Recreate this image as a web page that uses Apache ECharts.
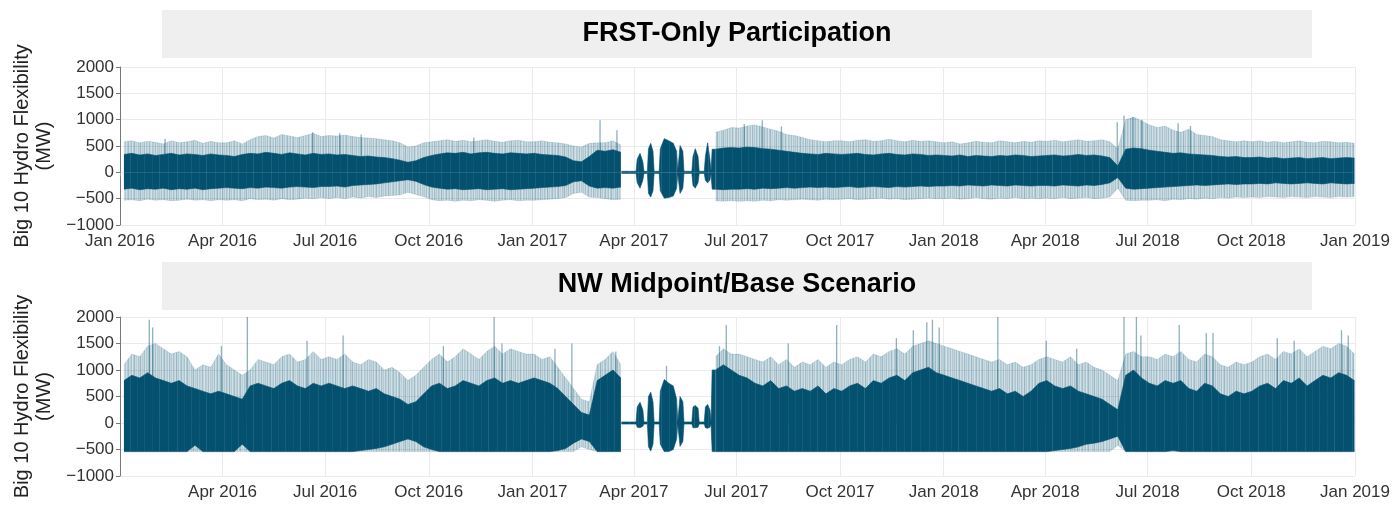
<!DOCTYPE html>
<html>
<head>
<meta charset="utf-8">
<title>Big 10 Hydro Flexibility</title>
<script src="https://cdn.jsdelivr.net/npm/echarts@6/dist/echarts.min.js"></script>
<style>
  html, body { margin: 0; padding: 0; background: #fff; }
  #chart { width: 1397px; height: 506px; }
</style>
</head>
<body>
<div id="chart"></div>
<script>
// weekly envelopes (MW), one row per quarter, week 0 = 1 Jan 2016
// null = quiet spring 2017 period, drawn from the quiet* arrays instead
var N = null;
var topOutHi = [
  580, 600, 560, 590, 570, 540, 600, 560, 580, 610, 550, 590, 560,
  560, 600, 540, 620, 680, 700, 650, 720, 690, 660, 700, 740, 680,
  700, 690, 710, 680, 660, 650, 640, 620, 600, 560, 480, 500, 560,
  580, 600, 620, 590, 610, 580, 600, 620, 590, 570, 600, 610, 580,
  580, 600, 570, 560, 540, 500, 480, 550, 560, 560, 600, 520,
  N, N, N, N, N, N, N, N, N, N, N, 760, 800, 850,
  840, 880, 900, 860, 820, 780, 720, 700, 660, 620, 600, 580, 600,
  600, 580, 610, 620, 590, 600, 630, 600, 580, 610, 590, 600, 580,
  560, 580, 540, 560, 590, 570, 560, 600, 580, 560, 590, 570, 600,
  590, 610, 580, 600, 620, 590, 600, 620, 580, 450, 1000, 1050, 980,
  900, 850, 880, 800, 760, 820, 720, 700, 680, 620, 600, 580, 600,
  580, 600, 570, 590, 560, 580, 600, 570, 560, 590, 580, 560, 570, 550
];
var topOutLo = [
  -530, -520, -540, -510, -530, -520, -540, -530, -510, -530, -520, -540, -520,
  -530, -520, -540, -500, -520, -510, -530, -500, -520, -510, -490, -500, -480,
  -500, -480, -500, -470, -490, -460, -480, -450, -440, -430, -380, -420, -460,
  -520, -540, -530, -550, -530, -540, -520, -530, -550, -530, -520, -540, -530,
  -530, -520, -510, -500, -480, -400, -380, -470, -480, -500, -520, -510,
  N, N, N, N, N, N, N, N, N, N, N, -540, -550, -540,
  -550, -540, -550, -530, -540, -520, -530, -520, -510, -520, -530, -510, -520,
  -510, -500, -520, -510, -500, -490, -510, -500, -520, -510, -500, -490, -500,
  -500, -490, -510, -500, -480, -500, -510, -490, -500, -480, -500, -490, -500,
  -490, -500, -480, -500, -490, -480, -500, -490, -470, -300, -530, -540, -530,
  -530, -520, -540, -510, -520, -500, -510, -490, -500, -480, -490, -470, -480,
  -470, -480, -460, -470, -480, -460, -470, -480, -460, -470, -480, -460, -470, -460
];
var topCoreHi = [
  340, 360, 330, 350, 320, 340, 360, 330, 350, 340, 320, 350, 330,
  320, 300, 340, 360, 350, 380, 360, 340, 370, 350, 330, 360, 340,
  350, 330, 340, 320, 300, 310, 290, 280, 260, 230, 190, 220, 280,
  320, 350, 370, 360, 380, 350, 370, 380, 360, 350, 370, 360, 350,
  360, 340, 330, 320, 290, 220, 200, 300, 420, 400, 430, 380,
  N, N, N, N, N, N, N, N, N, N, N, 440, 460, 470,
  460, 480, 470, 450, 440, 420, 400, 380, 360, 350, 340, 360, 350,
  340, 350, 360, 340, 330, 350, 360, 340, 330, 350, 340, 320, 330,
  320, 310, 330, 300, 320, 310, 300, 320, 310, 330, 320, 300, 310,
  320, 330, 310, 320, 340, 320, 330, 310, 280, 120, 440, 460, 450,
  420, 400, 380, 360, 370, 350, 340, 330, 320, 300, 290, 300, 280,
  280, 290, 270, 280, 260, 270, 280, 260, 270, 280, 260, 270, 280, 270
];
var topCoreLo = [
  -320, -300, -330, -310, -320, -300, -330, -310, -320, -300, -330, -310, -300,
  -290, -300, -310, -290, -300, -280, -290, -300, -280, -270, -280, -290, -270,
  -270, -260, -280, -250, -240, -230, -220, -200, -180, -160, -140, -170, -230,
  -280, -300, -320, -310, -330, -320, -310, -330, -320, -310, -330, -320, -310,
  -300, -290, -280, -270, -250, -180, -160, -260, -300, -290, -300, -280,
  N, N, N, N, N, N, N, N, N, N, N, -320, -330, -320,
  -320, -310, -320, -300, -310, -300, -290, -300, -290, -280, -290, -280, -290,
  -280, -270, -290, -280, -270, -280, -290, -270, -280, -270, -260, -270, -260,
  -260, -250, -260, -240, -250, -260, -240, -250, -260, -240, -250, -260, -250,
  -250, -260, -240, -250, -260, -240, -250, -230, -200, -100, -300, -320, -310,
  -300, -290, -280, -270, -260, -250, -240, -250, -240, -230, -220, -230, -220,
  -220, -210, -220, -200, -210, -220, -210, -200, -210, -220, -200, -210, -220, -210
];

var botOutHi = [
  1100, 1300, 1250, 1450, 1500, 1400, 1300, 1350, 1250, 1000, 1100, 1050, 1300,
  1100, 1000, 900, 1000, 1200, 1150, 1100, 1250, 1300, 1150, 1200, 1350, 1200,
  1250, 1200, 1300, 1150, 1100, 1200, 1150, 1000, 1050, 950, 800, 900, 1050,
  1200, 1300, 1150, 1250, 1400, 1300, 1200, 1350, 1450, 1300, 1400, 1350, 1300,
  1300, 1200, 1250, 1050, 850, 650, 450, 400, 1100, 1200, 1350, 1100,
  N, N, N, N, N, N, N, N, N, N, N, 1250, 1400, 1300,
  1300, 1250, 1200, 1150, 1250, 1100, 1200, 1050, 1150, 1100, 1200, 1050, 1150,
  1100, 1200, 1250, 1150, 1300, 1250, 1350, 1400, 1300, 1450, 1500, 1550, 1500,
  1450, 1400, 1350, 1300, 1250, 1200, 1150, 1200, 1100, 1150, 1050, 1100, 1200,
  1250, 1200, 1150, 1250, 1100, 1150, 1050, 1000, 900, 800, 1300, 1350, 1250,
  1250, 1200, 1300, 1250, 1350, 1200, 1150, 1300, 1250, 1100, 1050, 1150, 1100,
  1150, 1250, 1300, 1200, 1350, 1300, 1400, 1250, 1350, 1450, 1400, 1500, 1450, 1300
];
var botOutLo = [
  -540, -540, -540, -540, -540, -540, -540, -540, -540, -540, -540, -540, -540,
  -540, -540, -540, -540, -540, -540, -540, -540, -540, -540, -540, -540, -540,
  -540, -540, -540, -540, -540, -540, -540, -540, -540, -540, -540, -540, -540,
  -540, -540, -540, -540, -540, -540, -540, -540, -540, -540, -540, -540, -540,
  -540, -540, -540, -540, -540, -540, -450, -500, -540, -540, -540, -540,
  N, N, N, N, N, N, N, N, N, N, N, -540, -540, -540,
  -540, -540, -540, -540, -540, -540, -540, -540, -540, -540, -540, -540, -540,
  -540, -540, -540, -540, -540, -540, -540, -540, -540, -540, -540, -540, -540,
  -540, -540, -540, -540, -540, -540, -540, -540, -540, -540, -540, -540, -540,
  -540, -540, -540, -540, -540, -540, -540, -540, -540, -420, -540, -540, -540,
  -540, -540, -540, -540, -540, -540, -540, -540, -540, -540, -540, -540, -540,
  -540, -540, -540, -540, -540, -540, -540, -540, -540, -540, -540, -540, -540, -540
];
var botCoreHi = [
  800, 900, 850, 950, 850, 800, 750, 800, 700, 650, 600, 550, 600,
  550, 500, 450, 700, 750, 700, 650, 750, 800, 700, 650, 750, 700,
  750, 700, 650, 700, 650, 600, 650, 550, 500, 450, 350, 400, 550,
  700, 750, 650, 700, 800, 750, 700, 800, 850, 750, 800, 750, 800,
  850, 800, 750, 650, 500, 350, 200, 150, 800, 900, 1000, 850,
  N, N, N, N, N, N, N, N, N, N, N, 1000, 1100, 1000,
  900, 850, 750, 700, 800, 650, 700, 600, 650, 600, 700, 550, 650,
  600, 700, 750, 650, 800, 750, 850, 900, 800, 950, 1000, 1050, 950,
  900, 850, 800, 750, 700, 650, 600, 650, 550, 600, 500, 600, 750,
  800, 700, 650, 700, 600, 550, 500, 450, 350, 250, 900, 1000, 850,
  750, 700, 800, 750, 800, 650, 600, 750, 700, 550, 500, 600, 550,
  600, 700, 750, 650, 800, 750, 850, 700, 800, 900, 850, 950, 900, 800
];
var botCoreLo = [
  -540, -540, -540, -540, -540, -540, -540, -540, -540, -420, -540, -540, -540,
  -540, -540, -400, -540, -540, -540, -540, -540, -540, -540, -540, -540, -540,
  -540, -540, -540, -540, -520, -500, -480, -450, -400, -350, -300, -350, -450,
  -500, -540, -540, -540, -540, -540, -540, -540, -540, -540, -540, -540, -540,
  -540, -540, -540, -520, -480, -380, -300, -350, -540, -540, -540, -540,
  N, N, N, N, N, N, N, N, N, N, N, -540, -540, -540,
  -540, -540, -540, -540, -540, -540, -540, -540, -540, -540, -540, -540, -540,
  -540, -540, -540, -540, -540, -540, -540, -540, -540, -540, -540, -540, -540,
  -540, -540, -540, -540, -540, -540, -540, -540, -540, -540, -540, -540, -540,
  -540, -520, -500, -480, -450, -400, -380, -350, -300, -250, -540, -540, -540,
  -540, -540, -540, -520, -540, -540, -540, -540, -540, -540, -540, -540, -540,
  -540, -540, -540, -540, -540, -540, -540, -540, -540, -540, -540, -540, -540, -540
];

// quiet period (late Mar - mid Jun 2017), day number since 1 Jan 2016
var quietDay   = [445, 458, 459, 461.5, 464, 465, 468, 469, 471, 473, 474, 478.5, 479.5, 483, 487, 491, 494, 495, 496, 497, 499.5, 500.5, 507.5, 508.5, 510.5, 513, 514, 518.5, 519.5, 521.5, 523.5, 524.5, 525.5, 528.5];
var quietTopHi = [20, 20, 250, 360, 200, 20, 20, 450, 550, 400, 20, 20, 450, 640, 600, 550, 400, 20, 20, 510, 400, 20, 20, 300, 450, 300, 20, 20, 300, 560, 250, 20, 440, 440];
var quietTopLo = [-20, -20, -200, -300, -150, -20, -20, -400, -470, -350, -20, -20, -350, -490, -480, -450, -300, -20, -20, -400, -300, -20, -20, -250, -300, -200, -20, -20, -150, -200, -150, -20, -320, -320];
var quietBotHi = [20, 20, 300, 390, 250, 20, 20, 500, 580, 400, 20, 20, 600, 820, 750, 700, 450, 20, 20, 500, 400, 20, 20, 300, 330, 280, 20, 20, 300, 350, 250, 20, 1000, 1000];
var quietBotLo = [-20, -20, -80, -90, -60, -20, -20, -450, -530, -400, -20, -20, -400, -540, -540, -500, -300, -20, -20, -440, -350, -20, -20, -90, -90, -80, -20, -20, -90, -100, -80, -20, -540, -540];

// isolated tall hourly spikes
var topSpikes = [
  ['2016-02-10', 640], ['2016-06-20', 760], ['2016-07-14', 740], ['2016-08-02', 720],
  ['2016-11-10', 660], ['2017-03-02', 990], ['2017-03-17', 800], ['2017-07-08', 920],
  ['2017-07-24', 990], ['2017-08-10', 870], ['2018-06-04', 950], ['2018-06-10', 1080],
  ['2018-06-18', 1050], ['2018-06-26', 1000], ['2018-07-28', 930], ['2018-08-08', 880]
];
var botSpikes = [
  ['2016-01-27', 1950], ['2016-01-30', 1800], ['2016-03-31', 1450], ['2016-04-23', 2000],
  ['2016-06-15', 1550], ['2016-07-17', 1650], ['2016-10-14', 1450], ['2016-11-28', 2000],
  ['2016-12-05', 1500], ['2017-01-21', 1400], ['2017-02-05', 1500], ['2017-03-16', 1350],
  ['2017-04-30', 1080], ['2017-06-16', 1450], ['2017-06-22', 1850], ['2017-08-16', 1500],
  ['2017-09-28', 1850], ['2017-11-20', 1600], ['2017-12-05', 1750], ['2017-12-17', 1900],
  ['2017-12-22', 1950], ['2017-12-28', 1800], ['2018-02-18', 2000], ['2018-04-02', 1550],
  ['2018-04-29', 1400], ['2018-06-10', 2000], ['2018-06-21', 2000], ['2018-06-25', 1650],
  ['2018-07-29', 1850], ['2018-08-22', 1700], ['2018-08-28', 1700], ['2018-10-24', 1600],
  ['2018-11-08', 1550], ['2018-12-20', 1750], ['2018-12-26', 1650]
];

var panelTitles = ['FRST-Only Participation', 'NW Midpoint/Base Scenario'];
var yName = 'Big 10 Hydro Flexibility\n(MW)';
var monthNames = ['Jan', 'Feb', 'Mar', 'Apr', 'May', 'Jun', 'Jul', 'Aug', 'Sep', 'Oct', 'Nov', 'Dec'];

[topOutHi, topOutLo, topCoreHi, topCoreLo, botOutHi, botOutLo, botCoreHi, botCoreLo].forEach(function (a, k) {
  if (a.length !== 157) throw new Error('array ' + k + ' has ' + a.length);
});

var DAY = 86400000;
var T0 = new Date(2016, 0, 1).getTime();
var FONT = "'Liberation Sans', Arial, sans-serif";
var RGB = '3,80,111';

// streaky fills so the bands read like dense hourly traces
function stripes(alphas) {
  var c = document.createElement('canvas');
  c.width = alphas.length;
  c.height = 4;
  var ctx = c.getContext('2d');
  alphas.forEach(function (a, i) {
    ctx.fillStyle = 'rgba(' + RGB + ',' + a + ')';
    ctx.fillRect(i, 0, 1, 4);
  });
  return { image: c, repeat: 'repeat' };
}
var LIGHT = stripes([0.3, 0.22, 0.36, 0.18, 0.28, 0.4, 0.2, 0.26, 0.33, 0.17, 0.38, 0.24, 0.3, 0.2,
                     0.35, 0.27, 0.19, 0.42, 0.23, 0.31, 0.18, 0.29, 0.37, 0.21, 0.26, 0.34, 0.16,
                     0.3, 0.39, 0.22, 0.27, 0.19, 0.33, 0.25, 0.4, 0.2, 0.29, 0.23, 0.36, 0.18, 0.31,
                     0.26, 0.21, 0.38, 0.24, 0.17, 0.32, 0.28, 0.22, 0.35, 0.19, 0.3, 0.25]);
var DARK = stripes([1, 1, 1, 0.9, 1, 1, 1, 1, 1, 1, 1, 0.93, 1, 1, 1, 1, 1, 1, 0.86, 1, 1, 1, 1,
                    1, 1, 1, 1, 0.92, 1, 1, 1, 1, 1, 1, 1, 1, 0.88, 1, 1, 1, 1, 1, 1, 0.94, 1, 1, 1]);
var EDGE_LIGHT = 'rgba(' + RGB + ',0.22)';
var EDGE_DARK = 'rgb(' + RGB + ')';

function weekly(arr) {
  return arr.map(function (v, i) { return [T0 + (7 * i + 3.5) * DAY, v]; });
}
function quiet(arr) {
  return arr.map(function (v, i) { return [T0 + quietDay[i] * DAY, v]; });
}
function parseDay(s) {
  var p = s.split('-');
  return new Date(+p[0], +p[1] - 1, +p[2]).getTime();
}

var quarters = [];
for (var y = 2016; y <= 2018; y++) {
  [0, 3, 6, 9].forEach(function (m) { quarters.push(new Date(y, m, 1).getTime()); });
}
quarters.push(new Date(2019, 0, 1).getTime());

function fmtDate(v) {
  var d = new Date(v);
  return monthNames[d.getMonth()] + ' ' + d.getFullYear();
}

function area(name, idx, data, fill, edge, z) {
  return {
    name: name, type: 'line', xAxisIndex: idx, yAxisIndex: idx,
    data: data, showSymbol: false, symbol: 'none', connectNulls: false,
    lineStyle: { width: 0.6, color: edge }, areaStyle: { color: fill, opacity: 1 },
    silent: true, animation: false, z: z
  };
}
function spikes(idx, list) {
  return {
    type: 'bar', xAxisIndex: idx, yAxisIndex: idx, barWidth: 1.3,
    data: list.map(function (s) { return [parseDay(s[0]), s[1]]; }),
    itemStyle: { color: 'rgba(' + RGB + ',0.45)' }, silent: true, animation: false, z: 3
  };
}
function gridLines(idx) {
  return {
    type: 'line', xAxisIndex: idx, yAxisIndex: idx, data: [], silent: true, z: 1,
    markLine: {
      silent: true, symbol: 'none', animation: false, label: { show: false }, z: 1,
      lineStyle: { color: '#ebebeb', type: 'solid', width: 1 },
      data: quarters.slice(1).map(function (q) { return { xAxis: q }; })
    }
  };
}

var grids = [
  { left: 120, right: 42, top: 67, height: 158 },
  { left: 120, right: 42, top: 317, height: 159 }
];

var xAxes = [0, 1].map(function (i) {
  var shown = i === 0 ? quarters : quarters.slice(1);
  return {
    type: 'value', gridIndex: i,
    min: quarters[0], max: quarters[quarters.length - 1],
    axisLine: { show: false },
    axisTick: { show: true, length: 4, customValues: shown, lineStyle: { color: '#999' } },
    axisLabel: {
      customValues: shown,
      formatter: fmtDate, fontSize: 17, color: '#333', margin: 8, fontFamily: FONT
    },
    splitLine: { show: false }
  };
});

var yAxes = [0, 1].map(function (i) {
  return {
    type: 'value', gridIndex: i, min: -1000, max: 2000, interval: 500,
    name: yName, nameLocation: 'middle', nameGap: 50,
    nameTextStyle: { fontSize: 20, color: '#222', lineHeight: 22, fontFamily: FONT },
    axisLine: { show: true, lineStyle: { color: '#777' } },
    axisTick: { show: true, length: 4, lineStyle: { color: '#777' } },
    axisLabel: {
      fontSize: 17, color: '#333', margin: 6, fontFamily: FONT,
      formatter: function (v) { return v < 0 ? '\u2212' + (-v) : String(v); }
    },
    splitLine: { show: true, lineStyle: { color: '#ebebeb', width: 1 } }
  };
});

var series = [
  gridLines(0), gridLines(1),
  area('top outer hi', 0, weekly(topOutHi), LIGHT, EDGE_LIGHT, 2),
  area('top outer lo', 0, weekly(topOutLo), LIGHT, EDGE_LIGHT, 2),
  spikes(0, topSpikes),
  area('top core hi', 0, weekly(topCoreHi), DARK, EDGE_DARK, 4),
  area('top core lo', 0, weekly(topCoreLo), DARK, EDGE_DARK, 4),
  area('top quiet hi', 0, quiet(quietTopHi), DARK, EDGE_DARK, 4),
  area('top quiet lo', 0, quiet(quietTopLo), DARK, EDGE_DARK, 4),
  area('bot outer hi', 1, weekly(botOutHi), LIGHT, EDGE_LIGHT, 2),
  area('bot outer lo', 1, weekly(botOutLo), LIGHT, EDGE_LIGHT, 2),
  spikes(1, botSpikes),
  area('bot core hi', 1, weekly(botCoreHi), DARK, EDGE_DARK, 4),
  area('bot core lo', 1, weekly(botCoreLo), DARK, EDGE_DARK, 4),
  area('bot quiet hi', 1, quiet(quietBotHi), DARK, EDGE_DARK, 4),
  area('bot quiet lo', 1, quiet(quietBotLo), DARK, EDGE_DARK, 4)
];

var graphic = [
  { type: 'rect', shape: { x: 162, y: 10, width: 1150, height: 48 }, style: { fill: '#efefef' }, z: -1 },
  { type: 'rect', shape: { x: 162, y: 262, width: 1150, height: 48 }, style: { fill: '#efefef' }, z: -1 },
  { type: 'text', x: 737, y: 34, style: { text: panelTitles[0], font: 'bold 27px ' + FONT, fill: '#000', align: 'center', verticalAlign: 'middle', textAlign: 'center', textVerticalAlign: 'middle' } },
  { type: 'text', x: 737, y: 285, style: { text: panelTitles[1], font: 'bold 27px ' + FONT, fill: '#000', align: 'center', verticalAlign: 'middle', textAlign: 'center', textVerticalAlign: 'middle' } }
];

var chart = echarts.init(document.getElementById('chart'), null, { renderer: 'canvas' });
chart.setOption({
  animation: false,
  backgroundColor: '#fff',
  grid: grids,
  xAxis: xAxes,
  yAxis: yAxes,
  series: series,
  graphic: graphic
});
</script>
</body>
</html>
